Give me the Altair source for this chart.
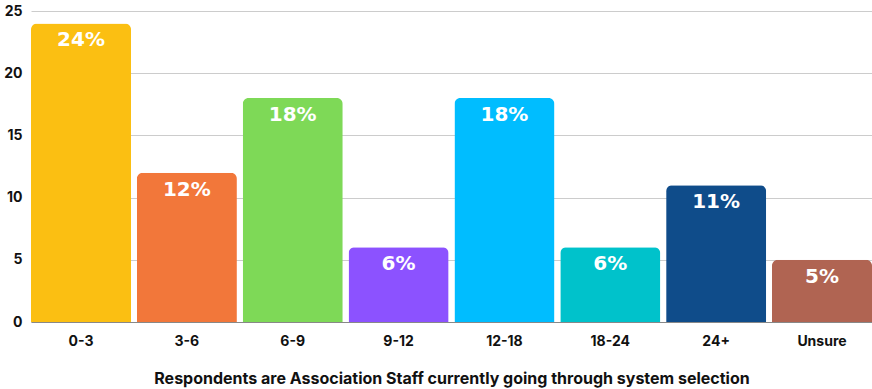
import altair as alt
import pandas as pd

categories = ["0-3", "3-6", "6-9", "9-12", "12-18", "18-24", "24+", "Unsure"]
values = [24, 12, 18, 6, 18, 6, 11, 5]
labels = ["24%", "12%", "18%", "6%", "18%", "6%", "11%", "5%"]
colors = ["#FBBF12", "#F2773A", "#7ED957", "#8C52FF", "#00BDFF", "#00C2CB", "#0F4C8A", "#B06452"]

df = pd.DataFrame({"cat": categories, "val": values, "label": labels})

x = alt.X("cat:N", sort=categories,
          scale=alt.Scale(paddingInner=0.055, paddingOuter=0),
          axis=alt.Axis(title="Respondents are Association Staff currently going through system selection",
                        labelAngle=0, labelFont="Inter", labelFontWeight="bold", labelFontSize=14,
                        labelColor="#111", labelPadding=12, ticks=False, domain=True,
                        domainColor="#888", domainWidth=1,
                        titleFont="Inter", titleFontWeight="bold", titleFontSize=16,
                        titleColor="#111", titlePadding=22))
y = alt.Y("val:Q", scale=alt.Scale(domain=[0, 25], padding=0, nice=False),
          axis=alt.Axis(title=None, values=[0, 5, 10, 15, 20, 25], labelFont="Inter",
                        labelFontWeight="bold", labelFontSize=14, labelColor="#111",
                        labelPadding=9, ticks=False, domain=False,
                        gridColor="#cccccc", gridWidth=1))

bars = alt.Chart(df).mark_bar(cornerRadiusTopLeft=6, cornerRadiusTopRight=6).encode(
    x=x, y=y,
    color=alt.Color("cat:N", sort=categories,
                    scale=alt.Scale(domain=categories, range=colors), legend=None),
)

text = alt.Chart(df).mark_text(dy=17, color="white", font="DejaVu Sans",
                               fontWeight="bold", fontSize=20, baseline="middle").encode(
    x=alt.X("cat:N", sort=categories), y="val:Q", text="label:N"
)

chart = (bars + text).properties(
    width=841, height=311,
    autosize=alt.AutoSizeParams(type="none"),
    padding={"left": 31, "top": 11, "right": 0, "bottom": 67},
).configure_view(stroke=None)

chart.save("out.html", embed_options={"renderer": "svg", "actions": False})
